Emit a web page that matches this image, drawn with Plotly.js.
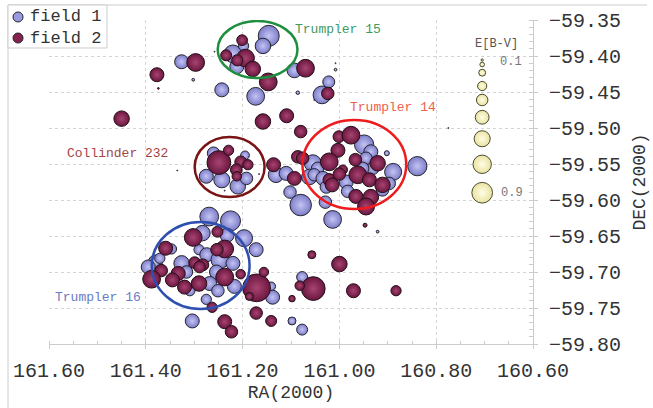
<!DOCTYPE html>
<html><head><meta charset="utf-8">
<script src="https://cdn.plot.ly/plotly-3.0.1.min.js"></script>
<style>html,body{margin:0;padding:0;background:#fff}#chart{width:653px;height:408px}</style>
</head><body><div id="chart"></div>
<script>
// ---- data ----
const field1RA = [161.326,161.302,161.243,161.146,161.158,161.220,161.212,161.198,161.093,161.086,161.173,161.022,161.036,161.008,161.195,161.260,161.275,161.243,161.210,161.192,161.131,161.110,161.102,161.080,161.029,161.014,160.921,160.949,160.935,160.902,161.055,161.045,161.062,161.052,161.034,161.027,160.986,160.983,160.911,160.931,160.945,160.952,160.889,160.897,160.839,161.269,161.225,161.197,161.283,161.232,161.347,161.290,161.172,161.274,161.247,161.220,161.326,161.380,161.316,161.254,161.309,161.268,161.251,161.217,161.275,161.304,161.371,161.395,161.077,161.141,161.138,161.098,161.077,161.258,161.008,161.052,160.775,161.335,161.166,161.237];
const field1DEC = [-59.408,-59.433,-59.447,-59.372,-59.386,-59.397,-59.415,-59.386,-59.420,-59.451,-59.456,-59.436,-59.454,-59.419,-59.538,-59.535,-59.567,-59.572,-59.581,-59.570,-59.565,-59.563,-59.589,-59.607,-59.603,-59.627,-59.644,-59.523,-59.533,-59.535,-59.549,-59.556,-59.568,-59.565,-59.570,-59.582,-59.575,-59.588,-59.586,-59.556,-59.542,-59.556,-59.561,-59.577,-59.553,-59.623,-59.629,-59.653,-59.646,-59.649,-59.668,-59.669,-59.669,-59.676,-59.683,-59.688,-59.688,-59.686,-59.700,-59.700,-59.726,-59.716,-59.726,-59.720,-59.738,-59.768,-59.681,-59.693,-59.707,-59.720,-59.735,-59.768,-59.780,-59.394,-59.410,-59.461,-59.500,-59.559,-59.564,-59.587];
const field1EBV = [0.56,0.11,0.56,0.84,0.62,0.71,0.56,0.41,0.59,0.14,0.71,0.48,0.71,0.11,0.35,0.5,0.56,0.64,0.62,0.5,0.62,0.56,0.5,0.86,0.5,0.71,0.11,0.77,0.56,0.2,0.68,0.5,0.62,0.5,0.56,0.5,0.56,0.5,0.5,0.5,0.5,0.5,0.68,0.5,0.77,0.75,0.8,0.68,0.62,0.56,0.41,0.41,0.56,0.56,0.71,0.56,0.62,0.56,0.5,0.56,0.41,0.56,0.5,0.56,0.41,0.56,0.41,0.56,0.44,0.35,0.56,0.32,0.44,0.04,0.04,0.04,0.04,0.04,0.04,0.04];

const field2RA = [161.297,161.377,161.374,161.450,161.201,161.234,161.194,161.211,161.179,161.147,161.070,161.024,161.158,161.109,161.080,161.249,161.229,161.204,161.189,161.213,161.212,161.136,161.093,161.086,161.076,161.001,160.976,161.003,161.021,160.967,160.921,160.993,160.962,160.938,161.021,161.000,161.015,160.911,160.966,160.935,160.945,160.947,161.057,161.000,160.971,160.883,161.054,161.082,161.098,161.141,161.172,161.171,161.156,161.186,161.252,161.302,161.359,161.237,161.253,161.299,161.282,161.289,161.368,161.333,161.237,161.204,161.388,161.345,161.290,161.320,161.263,161.237,161.223];
const field2DEC = [-59.409,-59.426,-59.445,-59.487,-59.378,-59.399,-59.403,-59.406,-59.418,-59.436,-59.417,-59.452,-59.491,-59.483,-59.505,-59.548,-59.531,-59.547,-59.551,-59.558,-59.567,-59.551,-59.570,-59.540,-59.542,-59.512,-59.510,-59.531,-59.547,-59.544,-59.549,-59.558,-59.565,-59.572,-59.572,-59.564,-59.579,-59.579,-59.595,-59.596,-59.609,-59.635,-59.676,-59.689,-59.726,-59.726,-59.723,-59.719,-59.737,-59.768,-59.757,-59.722,-59.700,-59.734,-59.644,-59.652,-59.667,-59.668,-59.669,-59.687,-59.690,-59.693,-59.698,-59.702,-59.707,-59.703,-59.710,-59.711,-59.716,-59.721,-59.749,-59.769,-59.783];
const field2EBV = [0.71,0.56,0.07,0.62,0.43,0.44,0.71,0.45,0.62,0.71,0.71,0.5,0.62,0.56,0.5,0.95,0.41,0.47,0.41,0.47,0.38,0.56,0.56,0.5,0.5,0.47,0.71,0.56,0.71,0.5,0.62,0.38,0.71,0.56,0.5,0.5,0.56,0.62,0.56,0.62,0.68,0.16,0.32,0.62,0.56,0.41,0.95,0.38,0.26,0.44,0.5,1.11,0.38,0.32,0.44,0.71,0.56,0.71,0.5,0.47,0.47,0.47,0.5,0.56,0.71,0.38,0.71,0.56,0.62,0.56,0.41,0.56,0.5];

// size key (E[B-V])
const keyEBV = [0.1,0.2,0.3,0.4,0.5,0.6,0.7,0.8,0.9];
const keyDEC = [-59.4056,-59.4118,-59.4232,-59.4417,-59.4611,-59.4851,-59.5149,-59.5504,-59.5899];
const keyRA = 160.705;

// cluster outlines and labels
const clusterNames = ['Trumpler 15','Trumpler 14','Collinder 232','Trumpler 16'];
const clusterColors = ['#1f8f3f','#ee1c1c','#7a1414','#2f4fb0'];
const clusterTextColors = ['#3f9a5e','#f0604c','#a04444','#6a7ac4'];
const clusterRA0 = [161.2515,161.0763,161.2990,161.3876];
const clusterRA1 = [161.0866,160.8619,161.1546,161.1856];
const clusterDEC0 = [-59.3514,-59.4889,-59.5125,-59.6306];
const clusterDEC1 = [-59.4306,-59.6125,-59.5958,-59.7514];
const labelRA = [161.002,160.890,161.458,161.498];
const labelDEC = [-59.3625,-59.472,-59.535,-59.735];

const seriesNames = ['field 1','field 2'];
const seriesColors = ['#7c7cc8','#6a1640'];
const seriesHighlights = ['#c4c4f4','#a84470'];
const seriesKeyColors = ['#9a9ae0','#85224f'];
const seriesLines = ['#262630','#241018'];

const MONO = 'Liberation Mono, Courier New, monospace';
const SIZEREF = 1/25;

function bubbles(i, x, y, s) {
  return {type:'scatter', mode:'markers', name:seriesNames[i], x:x, y:y, showlegend:false,
    marker:{size:s, sizemode:'diameter', sizeref:SIZEREF, sizemin:0, opacity:1,
      color:seriesColors[i], gradient:{type:'radial', color:seriesHighlights[i]},
      line:{color:seriesLines[i], width:1}}, cliponaxis:false, hoverinfo:'skip'};
}

const traces = [
  bubbles(0, field1RA, field1DEC, field1EBV),
  bubbles(1, field2RA, field2DEC, field2EBV),
  {type:'scatter', mode:'markers', showlegend:false, x:keyEBV.map(()=>keyRA), y:keyDEC,
   marker:{size:keyEBV, sizemode:'diameter', sizeref:1/23, opacity:1,
     color:'#e9e3a0', gradient:{type:'radial', color:'#fffde6'},
     line:{color:'#4a4a30', width:1}}, cliponaxis:false, hoverinfo:'skip'}
];

const shapes = clusterNames.map((n,i)=>({type:'circle', xref:'x', yref:'y',
  x0:clusterRA0[i], x1:clusterRA1[i], y0:clusterDEC0[i], y1:clusterDEC1[i],
  line:{color:clusterColors[i], width:2.5}, layer:'above'}));
// outer frame (left + top)
shapes.push({type:'line', xref:'paper', yref:'paper', x0:-0.0847, x1:1.2355, y0:1.0463, y1:1.0463, line:{color:'#cccccc', width:1}});
shapes.push({type:'line', xref:'paper', yref:'paper', x0:-0.0847, x1:-0.0847, y0:-0.2, y1:1.0463, line:{color:'#cccccc', width:1}});
// series key box
shapes.push({type:'rect', xref:'paper', yref:'paper', x0:-0.0847, x1:0.1198, y0:0.9136, y1:1.0463,
  line:{color:'#cccccc', width:1}, fillcolor:'#ffffff', layer:'above'});
const keyRowY = [1.0093, 0.9444];
seriesNames.forEach((n,i)=>{
  shapes.push({type:'circle', xref:'paper', yref:'paper', xsizemode:'pixel', ysizemode:'pixel',
    xanchor:-0.064, yanchor:keyRowY[i], x0:-5, x1:5, y0:-5, y1:5,
    fillcolor:seriesKeyColors[i], line:{color:'#262626', width:1}, layer:'above'});
});

const annotations = clusterNames.map((n,i)=>({text:n, x:labelRA[i], y:labelDEC[i], xref:'x', yref:'y',
  showarrow:false, font:{family:MONO, size:13, color:clusterTextColors[i]}}));
annotations.push({text:'E[B-V]', x:160.675, y:-59.383, xref:'x', yref:'y', showarrow:false, font:{family:MONO, size:12, color:'#555'}});
annotations.push({text:String(keyEBV[0]), x:160.645, y:-59.408, xref:'x', yref:'y', showarrow:false, font:{family:MONO, size:12, color:'#777'}});
annotations.push({text:String(keyEBV[8]), x:160.643, y:-59.590, xref:'x', yref:'y', showarrow:false, font:{family:MONO, size:12, color:'#777'}});
seriesNames.forEach((n,i)=>{
  annotations.push({text:n, xref:'paper', yref:'paper', x:-0.0434, y:keyRowY[i], xanchor:'left', yanchor:'middle',
    showarrow:false, font:{family:MONO, size:17, color:'#333'}});
});

const layout = {
  width:653, height:408,
  margin:{l:49, r:120, t:20, b:64},
  paper_bgcolor:'#fff', plot_bgcolor:'#fff',
  font:{family:MONO, color:'#333'},
  showlegend:false,
  xaxis:{range:[161.6,160.6], dtick:0.2, tick0:160.6, tickformat:'.2f',
    showgrid:true, gridcolor:'#d4d4d4', griddash:'dot', zeroline:false,
    showline:true, linecolor:'#cccccc', linewidth:1,
    ticks:'outside', ticklen:4, tickcolor:'#cccccc',
    minor:{dtick:0.05, ticks:'inside', ticklen:3, tickcolor:'#cccccc', showgrid:false},
    tickfont:{family:MONO, size:20, color:'#333'}, ticklabelstandoff:4,
    title:{text:'RA(2000)', font:{family:MONO, size:18, color:'#333'}, standoff:2}},
  yaxis:{range:[-59.8,-59.35], dtick:0.05, tick0:-59.8, tickformat:'.2f', side:'right',
    showgrid:true, gridcolor:'#d4d4d4', griddash:'dot', zeroline:false,
    showline:true, linecolor:'#cccccc', linewidth:1,
    ticks:'outside', ticklen:4, tickcolor:'#cccccc',
    minor:{dtick:0.01, ticks:'inside', ticklen:4, tickcolor:'#cccccc', showgrid:false},
    tickfont:{family:MONO, size:20, color:'#333'}, ticklabelstandoff:7,
    title:{text:'DEC(2000)', font:{family:MONO, size:18, color:'#333'}, standoff:12}},
  shapes:shapes, annotations:annotations
};

Plotly.newPlot('chart', traces, layout, {displayModeBar:false, staticPlot:true});
</script></body></html>
